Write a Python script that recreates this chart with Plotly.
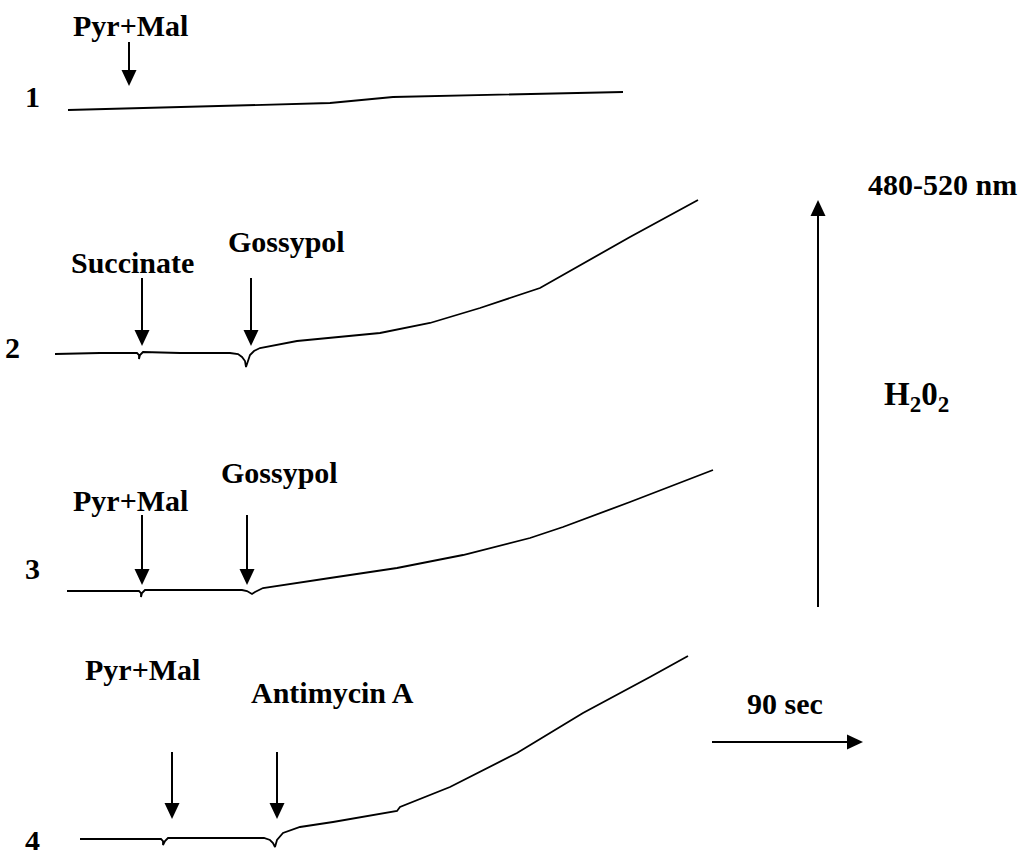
import plotly.graph_objects as go

W, H = 1019, 850

# ---- recorded traces (x: time axis, y: signal axis, drawing units) ----
trace1_x = [68, 143, 330, 393, 623]
trace1_y = [110, 108, 103, 97, 92]

trace2_x = [55, 100, 137, 139, 139, 140, 143, 180, 230, 238, 242, 245, 246, 248, 250, 254, 260, 297, 380, 430, 480, 540, 563, 630, 698]
trace2_y = [354, 353, 353, 355, 359, 355, 352, 353, 353, 354, 357, 361, 367, 360, 355, 351, 348, 341, 333, 323, 308, 288, 275, 237, 200]

trace3_x = [67, 110, 139, 141, 141, 142, 145, 200, 242, 247, 250, 252, 255, 263, 330, 397, 463, 530, 563, 630, 713]
trace3_y = [591, 591, 591, 593, 597, 593, 590, 590, 590, 591, 593, 594, 592, 588, 578, 568, 555, 538, 527, 502, 470]

trace4_x = [80, 130, 161, 163, 163, 165, 168, 220, 264, 270, 273, 275, 277, 283, 300, 333, 397, 400, 450, 517, 583, 650, 688]
trace4_y = [839, 839, 839, 841, 845, 841, 838, 838, 838, 840, 843, 847, 840, 833, 827, 822, 811, 807, 787, 753, 713, 677, 656]

traces = [(trace1_x, trace1_y), (trace2_x, trace2_y), (trace3_x, trace3_y), (trace4_x, trace4_y)]

# ---- labels ----
label_text = ["1", "Pyr+Mal", "2", "Succinate", "Gossypol", "Pyr+Mal", "Gossypol", "3",
              "Pyr+Mal", "Antimycin A", "4", "480-520 nm", "H<sub>2</sub>0<sub>2</sub>", "90 sec"]
label_x = [32, 130, 12, 132, 286, 130, 279, 32, 142, 332, 32, 942, 916, 785]
label_y = [96, 25, 347, 262, 241, 500, 472, 568, 669, 692, 840, 184, 396, 703]
label_size = [30, 30, 30, 30, 30, 30, 30, 30, 30, 30, 30, 30, 33, 30]

# ---- arrows: (x0, y0) tail -> (x1, y1) head ----
arrow_x0 = [129, 142, 251, 142, 247, 172, 277, 818, 712]
arrow_y0 = [42, 278, 278, 515, 515, 752, 752, 607, 742]
arrow_x1 = [129, 142, 251, 142, 247, 172, 277, 818, 863]
arrow_y1 = [86, 346, 346, 585, 585, 819, 819, 200, 742]

FONT = "Liberation Serif, Times New Roman, serif"

fig = go.Figure()

for tx, ty in traces:
    fig.add_trace(go.Scatter(x=tx, y=ty, mode="lines",
                             line=dict(color="black", width=1.8),
                             hoverinfo="skip", showlegend=False))

shapes = []
HEAD_L, HEAD_W = 16, 7.5
for x0, y0, x1, y1 in zip(arrow_x0, arrow_y0, arrow_x1, arrow_y1):
    dx, dy = x1 - x0, y1 - y0
    L = (dx * dx + dy * dy) ** 0.5
    ux, uy = dx / L, dy / L
    bx, by = x1 - ux * HEAD_L, y1 - uy * HEAD_L
    px, py = -uy, ux
    shapes.append(dict(type="line", xref="x", yref="y", x0=x0, y0=y0, x1=bx, y1=by,
                       line=dict(color="black", width=2)))
    path = (f"M {x1} {y1} L {bx + px * HEAD_W} {by + py * HEAD_W} "
            f"L {bx - px * HEAD_W} {by - py * HEAD_W} Z")
    shapes.append(dict(type="path", xref="x", yref="y", path=path,
                       fillcolor="black", line=dict(color="black", width=0)))

annotations = []
for t, x, y, s in zip(label_text, label_x, label_y, label_size):
    annotations.append(dict(text=f"<b>{t}</b>", x=x, y=y, xref="x", yref="y",
                            showarrow=False, xanchor="center", yanchor="middle",
                            font=dict(family=FONT, size=s, color="black")))

fig.update_layout(
    width=W, height=H,
    margin=dict(l=0, r=0, t=0, b=0),
    paper_bgcolor="white", plot_bgcolor="white",
    xaxis=dict(range=[0, W], visible=False, fixedrange=True),
    yaxis=dict(range=[H, 0], visible=False, fixedrange=True),
    shapes=shapes, annotations=annotations,
    showlegend=False,
)

fig.write_html(
    "out.html",
    config={"displayModeBar": False},
    post_script="document.body.style.margin='0';document.body.style.overflow='hidden';",
)
